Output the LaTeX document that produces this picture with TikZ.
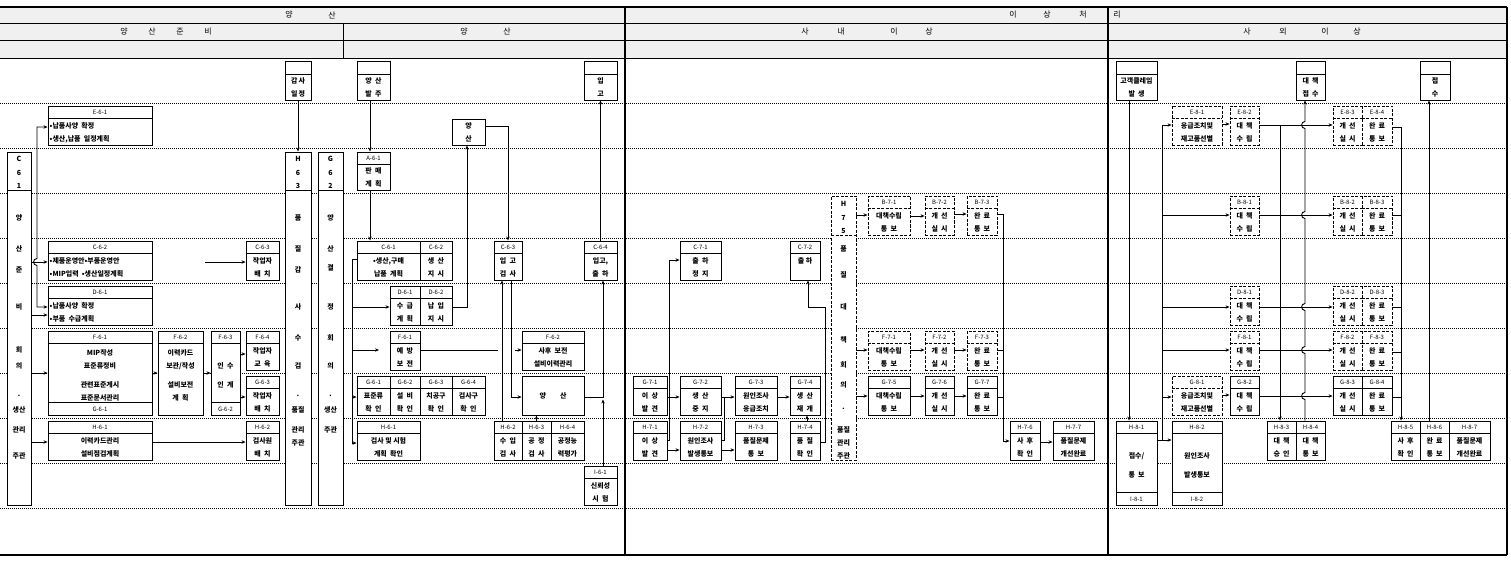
\documentclass[tikz,border=0pt]{standalone}
\usepackage{fontspec}
\setmainfont{Noto Sans CJK KR}
\usetikzlibrary{arrows.meta,fit,calc}
\tikzset{
  box/.style={draw,line width=0.9bp,fill=white,inner sep=0pt},
  dsh/.style={dash pattern=on 3bp off 1.5bp},
  tx/.style={font=\fontsize{7}{13}\selectfont\bfseries,inner sep=0pt},
  cd/.style={font=\fontsize{6}{7}\selectfont,inner sep=0pt},
  hd/.style={font=\fontsize{8}{9}\selectfont,inner sep=0pt},
  ln/.style={line width=0.9bp},
  arr/.style={ln,-{Stealth[length=4bp,width=3.4bp]}},
  arrb/.style={ln,{Stealth[length=4bp,width=3.4bp]}-{Stealth[length=4bp,width=3.4bp]}},
  rowline/.style={line width=0.8bp,dash pattern=on 0.9bp off 1.1bp},
  hop/.style args={#1/#2/#3}{insert path={-- (#1,#2) .. controls (#1-4.5,#2) and (#1-4.5,#3) .. (#1,#3)}},
}
% box with code header and body
\newcommand\tb[8][]{%
  \node[box,#1,fit={(#3,#4) (#5,#6)}] (#2) {};
  \draw[ln,#1] ($(#2.north west)+(0,13)$) -- ($(#2.north east)+(0,13)$);
  \node[cd] (#2-c) at ($(#2.north)+(0,6.5)$) {#7};
  \node[tx,align=center] (#2-b) at ($(#2.center)+(0,6.5)$) {#8};}
% same, body left aligned
\newcommand\tbl[8][]{%
  \node[box,#1,fit={(#3,#4) (#5,#6)}] (#2) {};
  \draw[ln,#1] ($(#2.north west)+(0,13)$) -- ($(#2.north east)+(0,13)$);
  \node[cd] (#2-c) at ($(#2.north)+(0,6.5)$) {#7};
  \node[tx,align=left,anchor=west] (#2-b) at ($(#2.west)+(2,7)$) {#8};}
% header + body at center
\newcommand\tbc[8][]{%
  \node[box,#1,fit={(#3,#4) (#5,#6)}] (#2) {};
  \draw[ln,#1] ($(#2.north west)+(0,13)$) -- ($(#2.north east)+(0,13)$);
  \node[cd] (#2-c) at ($(#2.north)+(0,6.5)$) {#7};
  \node[tx,align=center] (#2-b) at ($(#2.center)+(0,2)$) {#8};}
% header + body + footer
\newcommand\tc[9][]{%
  \node[box,#1,fit={(#3,#4) (#5,#6)}] (#2) {};
  \draw[ln,#1] ($(#2.north west)+(0,13)$) -- ($(#2.north east)+(0,13)$);
  \draw[ln,#1] ($(#2.south west)+(0,-13)$) -- ($(#2.south east)+(0,-13)$);
  \node[cd] (#2-c) at ($(#2.north)+(0,6.5)$) {#7};
  \node[tx,align=center] (#2-b) at ($(#2.center)+(0,2)$) {#8};
  \node[cd] (#2-f) at ($(#2.south)+(0,-6.5)$) {#9};}
% top event box (empty header)
\newcommand\te[4]{%
  \node[box,fit={(#2,61) (#3,100)}] (#1) {};
  \draw[ln] (#2,74) -- (#3,74);
  \node[tx,align=center] (#1-b) at ($(#1.center)+(0,6.5)$) {#4};}
% box without header
\newcommand\nb[7][]{%
  \node[box,#1,fit={(#3,#4) (#5,#6)}] (#2) {};
  \node[tx,align=center] (#2-b) at (#2.center) {#7};}
% tall vertical box
\newcommand\tv[7][]{%
  \node[box,#1,fit={(#3,#4) (#5,#6)}] (#2) {};
  \draw[ln,#1] (#3,#7) -- (#5,#7);}
\begin{document}
\begin{tikzpicture}[x=1bp,y=-1bp]
\useasboundingbox (0,0) rectangle (1511,563);
% header band
\fill[gray!12] (0,7) rectangle (1507,58);
\foreach \y in {103.3,148.3,193.3,238.3,283.3,328.3,373.3,418.3,463.3,508.3}
  \draw[rowline] (0,\y) -- (1507,\y);
\draw[line width=1.2bp] (0,7) -- (1507,7);
\draw[ln] (0,23) -- (1507,23) (0,40) -- (1507,40) (0,58) -- (1507,58);
\draw[line width=1.2bp] (625,7) -- (625,555) (1108,7) -- (1108,555);
\draw[ln] (343,23) -- (343,58);
\draw[line width=1.8bp] (1507,7) -- (1507,555) (0,555) -- (1507,555);
\foreach \xx/\t in {289/양,332/산,1013/이,1047/상,1083/처,1117/리}
  \node[hd] (hA-\xx) at (\xx,15) {\t};
\foreach \xx/\t in {124/양,152/산,180/준,208/비,464/양,507/산,805/사,841/내,894/이,929/상,1247/사,1283/외,1325/이,1357/상}
  \node[hd] (hB-\xx) at (\xx,31.5) {\t};

% ===== 양산 준비 =====
\te{GS}{285}{311}{감\,사\\일\,정}
\tv{C61}{7}{152}{31}{505}{190}
\foreach \yy/\t in {159/C,173/6,186/1,218/양,249/산,270/준,307/비,350/회,366/의,397/·,410/생산,430/관리,456/주관}
  \node[tx] (C61-\yy) at (19,\yy) {\t};
\tv{H63}{285}{152}{311}{505}{190}
\foreach \yy/\t in {159/H,173/6,186/3,218/품,249/질,270/감,307/사,338/수,366/검,397/·,410/품질,430/관리,443/주관}
  \node[tx] (H63-\yy) at (298,\yy) {\t};
\tv{G62}{318}{152}{343}{505}{190}
\foreach \yy/\t in {159/G,173/6,186/2,218/양,249/산,268/결,307/정,338/회,366/의,397/·,410/생산,430/주관}
  \node[tx] (G62-\yy) at (330.5,\yy) {\t};
\tbl{E61}{48}{106}{152}{145}{E-6-1}{•납품사양\ \ 확정\\•생산,납품\ \ 일정계획}
\tbl{C62}{48}{241}{152}{280}{C-6-2}{•제품운영안•부품운영안\\•MIP입력\ \ •생산일정계획}
\tb{C63}{246}{241}{279}{280}{C-6-3}{작업자\\배\ \ 치}
\tbl{D61}{48}{286}{152}{325}{D-6-1}{•납품사양\ \ 확정\\•부품\ \ 수급계획}
\tc{F61}{48}{331}{152}{415}{F-6-1}{MIP작성\\표준류정비\\[6bp]관련표준게시\\표준문서관리}{G-6-1}
\tbc{F62}{158}{331}{203}{415}{F-6-2}{이력카드\\보관/작성\\[6bp]설비보전\\계\ \ 획}
\tc{F63}{211}{331}{240}{415}{F-6-3}{인\ \ 수\\[6bp]인\ \ 계}{G-6-2}
\tb{F64}{246}{331}{279}{370}{F-6-4}{작업자\\교\ \ 육}
\tb{G63}{246}{376}{279}{415}{G-6-3}{작업자\\배\ \ 치}
\tb{H61}{48}{421}{152}{460}{H-6-1}{이력카드관리\\설비점검계획}
\tb{H62}{246}{421}{279}{460}{H-6-2}{검사원\\배\ \ 치}

% ===== 양산 =====
\te{YB}{357}{390}{양\ \ 산\\발\ \ 주}
\te{IG}{584}{617}{입\\고}
\nb{YS}{452}{119}{485}{145}{양\\산}
\tb{A61}{357}{152}{390}{190}{A-6-1}{판\ \ 매\\계\ \ 획}
\tb{C61b}{357}{241}{420}{280}{C-6-1}{•생산,구매\\납품\ \ 계획}
\tb{C62b}{420}{241}{452}{280}{C-6-2}{생\ \ 산\\지\ \ 시}
\tb{C63b}{494}{241}{522}{280}{C-6-3}{입\ \ 고\\검\ \ 사}
\tb{C64b}{584}{241}{617}{280}{C-6-4}{입고,\\출\ \ 하}
\tb{D61b}{390}{286}{420}{325}{D-6-1}{수\ \ 급\\계\ \ 획}
\tb{D62b}{420}{286}{452}{325}{D-6-2}{납\ \ 입\\지\ \ 시}
\tb{F61b}{390}{331}{420}{370}{F-6-1}{예\ \ 방\\보\ \ 전}
\tb{F62b}{522}{331}{584}{370}{F-6-2}{사후\ \ 보전\\설비이력관리}
\tb{G61b}{357}{376}{390}{415}{G-6-1}{표준류\\확\ \ 인}
\tb{G62b}{390}{376}{420}{415}{G-6-2}{설\ \ 비\\확\ \ 인}
\tb{G63b}{420}{376}{452}{415}{G-6-3}{치공구\\확\ \ 인}
\tb{G64b}{452}{376}{485}{415}{G-6-4}{검사구\\확\ \ 인}
\nb{YS2}{522}{376}{584}{415}{양\hspace{14bp}산}
\tb{H61b}{357}{421}{420}{460}{H-6-1}{검사\ 및\ 시험\\계획\ \ 확인}
\tb{H62b}{494}{421}{522}{460}{H-6-2}{수\ \ 입\\검\ \ 사}
\tb{H63b}{522}{421}{551}{460}{H-6-3}{공\ \ 정\\검\ \ 사}
\tb{H64b}{551}{421}{584}{460}{H-6-4}{공정능\\력평가}
\tb{I61b}{584}{466}{617}{505}{I-6-1}{신뢰성\\시\ \ 험}

% ===== 사내 이상 =====
\tb{C71}{680}{241}{721}{280}{C-7-1}{출\ \ 하\\정\ \ 지}
\tb{C72}{790}{241}{820}{280}{C-7-2}{출\ 하\\\mbox{}}
\tb{G71}{633}{376}{667}{415}{G-7-1}{이\ \ 상\\발\ \ 견}
\tb{G72}{680}{376}{721}{415}{G-7-2}{생\ \ 산\\중\ \ 지}
\tb{G73}{735}{376}{777}{415}{G-7-3}{원인조사\\응급조치}
\tb{G74}{790}{376}{820}{415}{G-7-4}{생\ \ 산\\재\ \ 개}
\tb{H71}{633}{421}{667}{460}{H-7-1}{이\ \ 상\\발\ \ 견}
\tb{H72}{680}{421}{721}{460}{H-7-2}{원인조사\\발생통보}
\tb{H73}{735}{421}{777}{460}{H-7-3}{품질문제\\통\ \ 보}
\tb{H74}{790}{421}{820}{460}{H-7-4}{품\ \ 질\\확\ \ 인}
\tv[dsh]{H75}{831}{196}{856}{460}{235}
\foreach \yy/\t in {204/H,218/7,231/5,249/품,275/질,307/대,340/책,365/회,385/의,410/·,430/품질,443/관리,456/주관}
  \node[tx] (H75-\yy) at (843.5,\yy) {\t};
\tb[dsh]{B71}{868}{196}{910}{235}{B-7-1}{대책수립\\통\ \ 보}
\tb[dsh]{B72}{925}{196}{954}{235}{B-7-2}{개\ \ 선\\실\ \ 시}
\tb[dsh]{B73}{967}{196}{997}{235}{B-7-3}{완\ \ 료\\통\ \ 보}
\tb[dsh]{F71}{868}{331}{910}{370}{F-7-1}{대책수립\\통\ \ 보}
\tb[dsh]{F72}{925}{331}{954}{370}{F-7-2}{개\ \ 선\\실\ \ 시}
\tb[dsh]{F73}{967}{331}{997}{370}{F-7-3}{완\ \ 료\\통\ \ 보}
\tb{G75}{868}{376}{910}{415}{G-7-5}{대책수립\\통\ \ 보}
\tb{G76}{925}{376}{954}{415}{G-7-6}{개\ \ 선\\실\ \ 시}
\tb{G77}{967}{376}{997}{415}{G-7-7}{완\ \ 료\\통\ \ 보}
\tb{H76}{1010}{421}{1040}{460}{H-7-6}{사\ \ 후\\확\ \ 인}
\tb{H77}{1053}{421}{1094}{460}{H-7-7}{품질문제\\개선완료}

% ===== 사외 이상 =====
\te{KC}{1116}{1157}{고객클레임\\발\ \ 생}
\te{DJ}{1296}{1325}{대\ \ 책\\접\ \ 수}
\te{JS}{1420}{1450}{접\\수}
\tb[dsh]{E81}{1172}{106}{1222}{145}{E-8-1}{응급조치및\\재고품선별}
\tb[dsh]{E82}{1230}{106}{1259}{145}{E-8-2}{대\ \ 책\\수\ \ 립}
\tb[dsh]{E83}{1333}{106}{1362}{145}{E-8-3}{개\ \ 선\\실\ \ 시}
\tb[dsh]{E84}{1362}{106}{1392}{145}{E-8-4}{완\ \ 료\\통\ \ 보}
\tb[dsh]{B81}{1230}{196}{1259}{235}{B-8-1}{대\ \ 책\\수\ \ 립}
\tb[dsh]{B82}{1333}{196}{1362}{235}{B-8-2}{개\ \ 선\\실\ \ 시}
\tb[dsh]{B83}{1362}{196}{1392}{235}{B-8-3}{완\ \ 료\\통\ \ 보}
\tb[dsh]{D81}{1230}{286}{1259}{325}{D-8-1}{대\ \ 책\\수\ \ 립}
\tb[dsh]{D82}{1333}{286}{1362}{325}{D-8-2}{개\ \ 선\\실\ \ 시}
\tb[dsh]{D83}{1362}{286}{1392}{325}{D-8-3}{완\ \ 료\\통\ \ 보}
\tb[dsh]{F81}{1230}{331}{1259}{370}{F-8-1}{대\ \ 책\\수\ \ 립}
\tb[dsh]{F82}{1333}{331}{1362}{370}{F-8-2}{개\ \ 선\\실\ \ 시}
\tb[dsh]{F83}{1362}{331}{1392}{370}{F-8-3}{완\ \ 료\\통\ \ 보}
\tb[dsh]{G81}{1172}{376}{1222}{415}{G-8-1}{응급조치및\\재고품선별}
\tb{G82}{1230}{376}{1259}{415}{G-8-2}{대\ \ 책\\수\ \ 립}
\tb{G83}{1333}{376}{1362}{415}{G-8-3}{개\ \ 선\\실\ \ 시}
\tb{G84}{1362}{376}{1392}{415}{G-8-4}{완\ \ 료\\통\ \ 보}
\tc{H81}{1116}{421}{1157}{505}{H-8-1}{접수/\\[6bp]통\ \ 보}{I-8-1}
\tc{H82}{1172}{421}{1222}{505}{H-8-2}{원인조사\\[6bp]발생통보}{I-8-2}
\tb{H83}{1267}{421}{1296}{460}{H-8-3}{대\ \ 책\\승\ \ 인}
\tb{H84}{1296}{421}{1325}{460}{H-8-4}{대\ \ 책\\통\ \ 보}
\tb{H85}{1391}{421}{1420}{460}{H-8-5}{사\ \ 후\\확\ \ 인}
\tb{H86}{1420}{421}{1449}{460}{H-8-6}{완\ \ 료\\통\ \ 보}
\tb{H87}{1449}{421}{1490}{460}{H-8-7}{품질문제\\개선완료}

% ===== connectors: 양산 준비 =====
\draw[arr] (GS.south) -- (GS.south |- H63.north);
\draw[arr] (C61.east |- 0,262) -- (C62.west |- 0,262);
\draw[arrb] (E61.west |- 0,127) -- (37,127) [hop=37/258.5/265.5] -- (37,307) -- (D61.west |- 0,307);
\draw[arr] (C61.east |- 0,315) -- (D61.west |- 0,315);
\draw[arr] (C61.east |- 0,373) -- (F61.west |- 0,373);
\draw[arr] (C61.east |- 0,442) -- (H61.west |- 0,442);
\coordinate (c62o) at (205,262);
\draw[arr] (c62o) -- (C63.west |- c62o);
\draw[arr] (F61.east |- 0,373) -- (F62.west |- 0,373);
\draw[arr] (F62.east |- 0,373) -- (F63.west |- 0,373);
\draw[arr] (F63.east |- 0,354) -- (F64.west |- 0,354);
\draw[arr] (F63.east |- 0,397) -- (G63.west |- 0,397);
\draw[arr] (H61.east |- 0,442) -- (H62.west |- 0,442);

% ===== connectors: 양산 =====
\draw[arr] (YB.south -| 370,0) -- (A61.north -| 370,0);
\draw[arr] (A61.south -| 370,0) -- (C61b.north -| 370,0);
\draw[arr] (YS.east |- 0,126) -| (C63b.north);
\draw[arr] (D62b.east |- 0,307) -| (YS.south -| 467,0);
\draw[arr] (C64b.north) -- (IG.south);
\draw[arr] (C61b.west |- 0,259) -- (352,259) -- (352,443) -- (H61b.west |- 0,443);
\draw[arr] (352,307) -- (D61b.west |- 0,307);
\coordinate (f61end) at (379,350);
\draw[arr] (352,350) -- (f61end);
\draw[arr] (352,397) -- (G61b.west |- 0,397);
\draw[ln] (F61b.east |- 0,350) -- (498,350);
\coordinate (f62in) at (515,350);
\draw[arr] (f62in) -- (F62b.west |- f62in);
\draw[arr] (H62b.north -| 502,0) -- (C63b.south -| 502,0);
\draw[arr] (C63b.south -| 511,0) |- (YS2.west |- 0,397);
\draw[arr] (H63b.north) -- (YS2.south -| H63b.north);
\draw[arr] (YS2.east |- 0,397) -| (C64b.south -| 603,0);
\draw[arr] (I61b.north -| 603,0) -- (603,399.5);

% ===== connectors: 사내 이상 =====
\draw[arr] (H71.east |- 0,440) -- (669,440) |- (C71.west |- 0,260);
\draw[arr] (H71.east |- 0,450) -- (H72.west |- 0,450);
\draw[arr] (G71.east |- 0,397) -- (G72.west |- 0,397);
\draw[arr] (G72.east |- 0,397) -- (G73.west |- 0,397);
\draw[ln] (H72.east |- 0,440) -| (724,397);
\draw[arr] (H72.east |- 0,450) -- (H73.west |- 0,450);
\draw[arr] (G73.east |- 0,397) -- (G74.west |- 0,397);
\draw[arr] (H74.north -| 807,0) -- (G74.south -| 807,0);
\draw[arr] (H74.east |- 0,442) -- (825,442) -- (825,307) -- (808,307) -- (C72.south -| 808,0);
\draw[arr] (H75.east |- 0,215) -- (B71.west |- 0,215);
\draw[arr] (H75.east |- 0,350) -- (F71.west |- 0,350);
\draw[arr] (H75.east |- 0,396) -- (G75.west |- 0,396);
\draw[arr] (B71.east |- 0,216) -- (B72.west |- 0,216);
\draw[arr] (B72.east |- 0,214) -- (B73.west |- 0,214);
\draw[arr] (F71.east |- 0,350) -- (F72.west |- 0,350);
\draw[arr] (F72.east |- 0,350) -- (F73.west |- 0,350);
\draw[arr] (G75.east |- 0,396) -- (G76.west |- 0,396);
\draw[arr] (G76.east |- 0,396) -- (G77.west |- 0,396);
\draw[arr] (B73.east |- 0,214) -- (1003,214) |- (H76.west |- 0,441);
\draw[ln] (F73.east |- 0,350) -- (1003,350);
\draw[ln] (G77.east |- 0,397) -- (1003,397);
\draw[arr] (H76.east |- 0,442) -- (H77.west |- 0,442);

% ===== connectors: 사외 이상 =====
\draw[arr] (KC.south -| 1129,0) -- (H81.north -| 1129,0);
\draw[arr] (H81.east |- 0,440) -- (H82.west |- 0,440);
\draw[arr] (1162,440) -- (1162,125) -- (E81.west |- 0,125);
\draw[arr] (1162,215) -- (B81.west |- 0,215);
\draw[arr] (1162,307) -- (D81.west |- 0,307);
\draw[arr] (1162,350) -- (F81.west |- 0,350);
\draw[arr] (1162,397) -- (G81.west |- 0,397);
\draw[arr] (E81.east |- 0,124) -- (E82.west |- 0,124);
\draw[arr] (G81.east |- 0,395) -- (G82.west |- 0,395);
\draw[arr] (E82.east |- 0,125) -- (E83.west |- 0,125);
\draw[arr] (B81.east |- 0,215) -- (B82.west |- 0,215);
\draw[arr] (D81.east |- 0,307) -- (D82.west |- 0,307);
\draw[arr] (F81.east |- 0,350) -- (F82.west |- 0,350);
\draw[arr] (G82.east |- 0,396) -- (G83.west |- 0,396);
\draw[arr] (1280,125) -- (H83.north -| 1280,0);
\draw[arr] (H84.north -| 1305,0) [hop=1305/399.5/392.5] [hop=1305/353.5/346.5] [hop=1305/310.5/303.5] [hop=1305/218.5/211.5] [hop=1305/128.5/121.5] -- (DJ.south -| 1305,0);
\draw[arr] (E84.east |- 0,127) -- (1401,127) -- (H85.north -| 1401,0);
\draw[ln] (B83.east |- 0,215) -- (1401,215);
\draw[ln] (D83.east |- 0,307) -- (1401,307);
\draw[ln] (F83.east |- 0,352) -- (1401,352);
\draw[ln] (G84.east |- 0,397) -- (1401,397);
\draw[arr] (H86.north -| 1429,0) -- (JS.south -| 1429,0);
\end{tikzpicture}
\end{document}
